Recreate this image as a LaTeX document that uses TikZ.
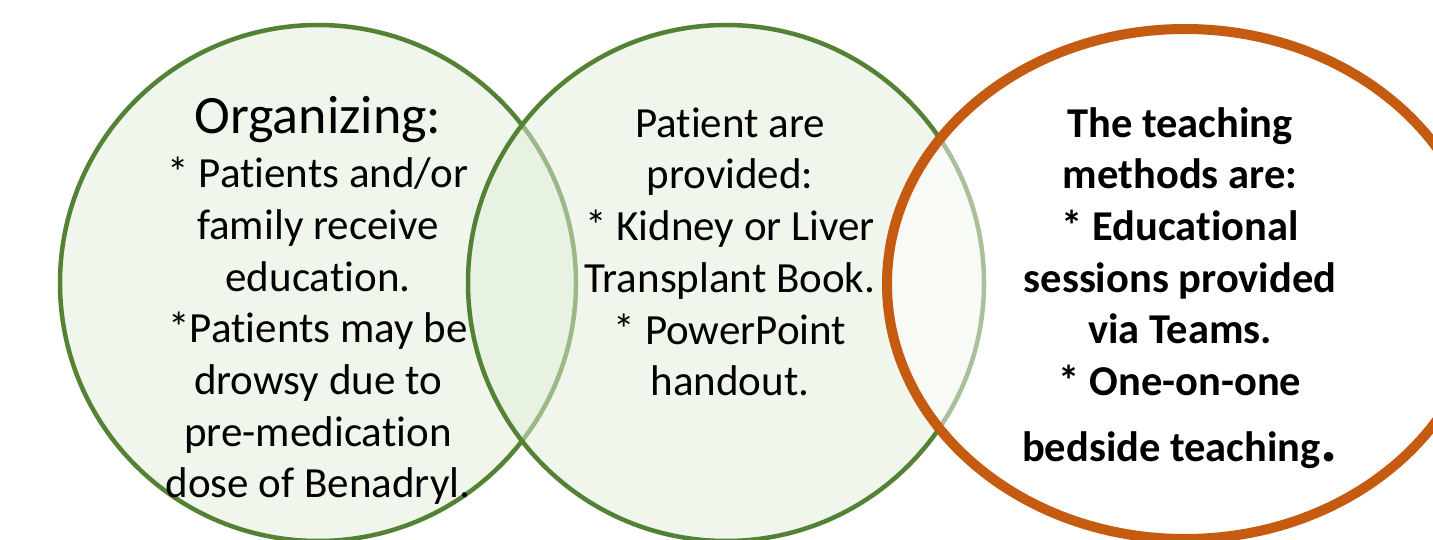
\documentclass[tikz,border=0pt]{standalone}
\usepackage{fontspec}
\setmainfont[Ligatures=NoCommon]{Carlito}
\usepackage{xcolor}
\usepackage{tikz}
\usetikzlibrary{positioning}
\definecolor{venngreen}{HTML}{548235}
\definecolor{vennfill}{HTML}{E2EFDA}
\definecolor{vennorange}{HTML}{C55A11}

\begin{document}
\begin{tikzpicture}[x=1pt, y=-1pt,
  greenring/.style={draw=venngreen, line width=4.5pt, fill=vennfill, fill opacity=0.5},
  orangering/.style={draw=vennorange, line width=10pt, fill=white, fill opacity=0.5},
  venntext/.style={align=center, inner sep=0pt, font=\fontsize{43}{51.7}\selectfont}]
  \useasboundingbox (0,0) rectangle (1433,540);
  \fill[white] (0,0) rectangle (1433,540);
  \clip (0,0) rectangle (1433,540);
  % Three overlapping rings
  \draw[greenring] (318,283) circle [radius=258pt];
  \draw[greenring] (726,283) circle [radius=258pt];
  \draw[orangering] (1185,284) ellipse [x radius=298pt, y radius=255pt];
  % Left ring
  \node[font=\fontsize{54}{60}\selectfont, inner sep=0pt, anchor=base] (orghead) at (318,134) {Organizing:};
  \node[venntext, anchor=north] (orgbody) at (318,157)
    {* Patients and/or\\ family receive\\ education.\\ *Patients may be\\ drowsy due to\\ pre-medication\\ dose of Benadryl.};
  % Middle ring
  \node[venntext, anchor=north] (provided) at (730,107.5)
    {Patient are\\ provided:\\ * Kidney or Liver\\ Transplant Book.\\ * PowerPoint\\ handout.};
  % Right ring
  \node[venntext, font=\fontsize{42.5}{51.7}\selectfont\bfseries, anchor=north] (methods) at (1180,107)
    {The teaching\\ methods are:\\ * Educational\\ sessions provided\\ via Teams.\\ * One-on-one\\[14pt] bedside teaching{\fontsize{64}{64}\selectfont.}};
\end{tikzpicture}
\end{document}
